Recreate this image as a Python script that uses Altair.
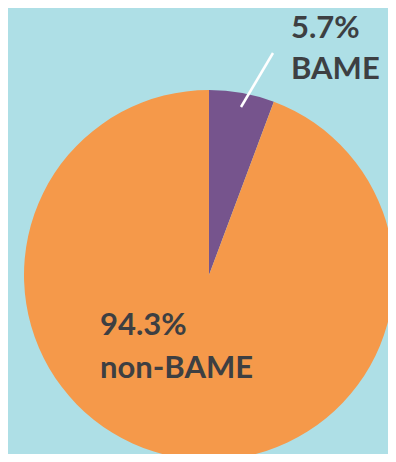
import altair as alt
import pandas as pd

categories = ["BAME", "non-BAME"]
values = [5.7, 94.3]
colors = ["#76548d", "#f5994a"]

df = pd.DataFrame({"category": categories, "value": values, "order": [0, 1]})
df["pct"] = df["value"].map(lambda v: f"{v}%")
df["label"] = df["pct"] + "\n" + df["category"]

# chart coords = page coords - 8
CX, CY, R = 201, 267, 185

pie = alt.Chart(df).mark_arc(radius=R).encode(
    theta=alt.Theta("value:Q", stack=True),
    color=alt.Color("category:N", scale=alt.Scale(domain=categories, range=colors), legend=None),
    order=alt.Order("order:Q"),
    x=alt.value(CX),
    y=alt.value(CY),
)

leader = alt.Chart(df.iloc[[0]]).mark_rule(color="white", strokeWidth=2.5).encode(
    x=alt.value(265), y=alt.value(45), x2=alt.value(233), y2=alt.value(99)
)

text_style = dict(font="Lato", fontWeight="bold", fontSize=31, color="#3d3f42",
                  align="left", baseline="alphabetic", lineBreak="\n")

lab_bame = alt.Chart(df.iloc[[0]]).mark_text(lineHeight=41, **text_style).encode(
    text="label:N", x=alt.value(283), y=alt.value(30)
)
lab_non = alt.Chart(df.iloc[[1]]).mark_text(lineHeight=43, **text_style).encode(
    text="label:N", x=alt.value(92), y=alt.value(327)
)

chart = alt.layer(pie, leader, lab_bame, lab_non).properties(
    width=380, height=446, padding=0,
    autosize=alt.AutoSizeParams(type="fit", contains="padding"),
    background="#aedfe6",
).configure_view(stroke=None)

chart.save("out.html", embed_options={"renderer": "svg", "actions": False})
